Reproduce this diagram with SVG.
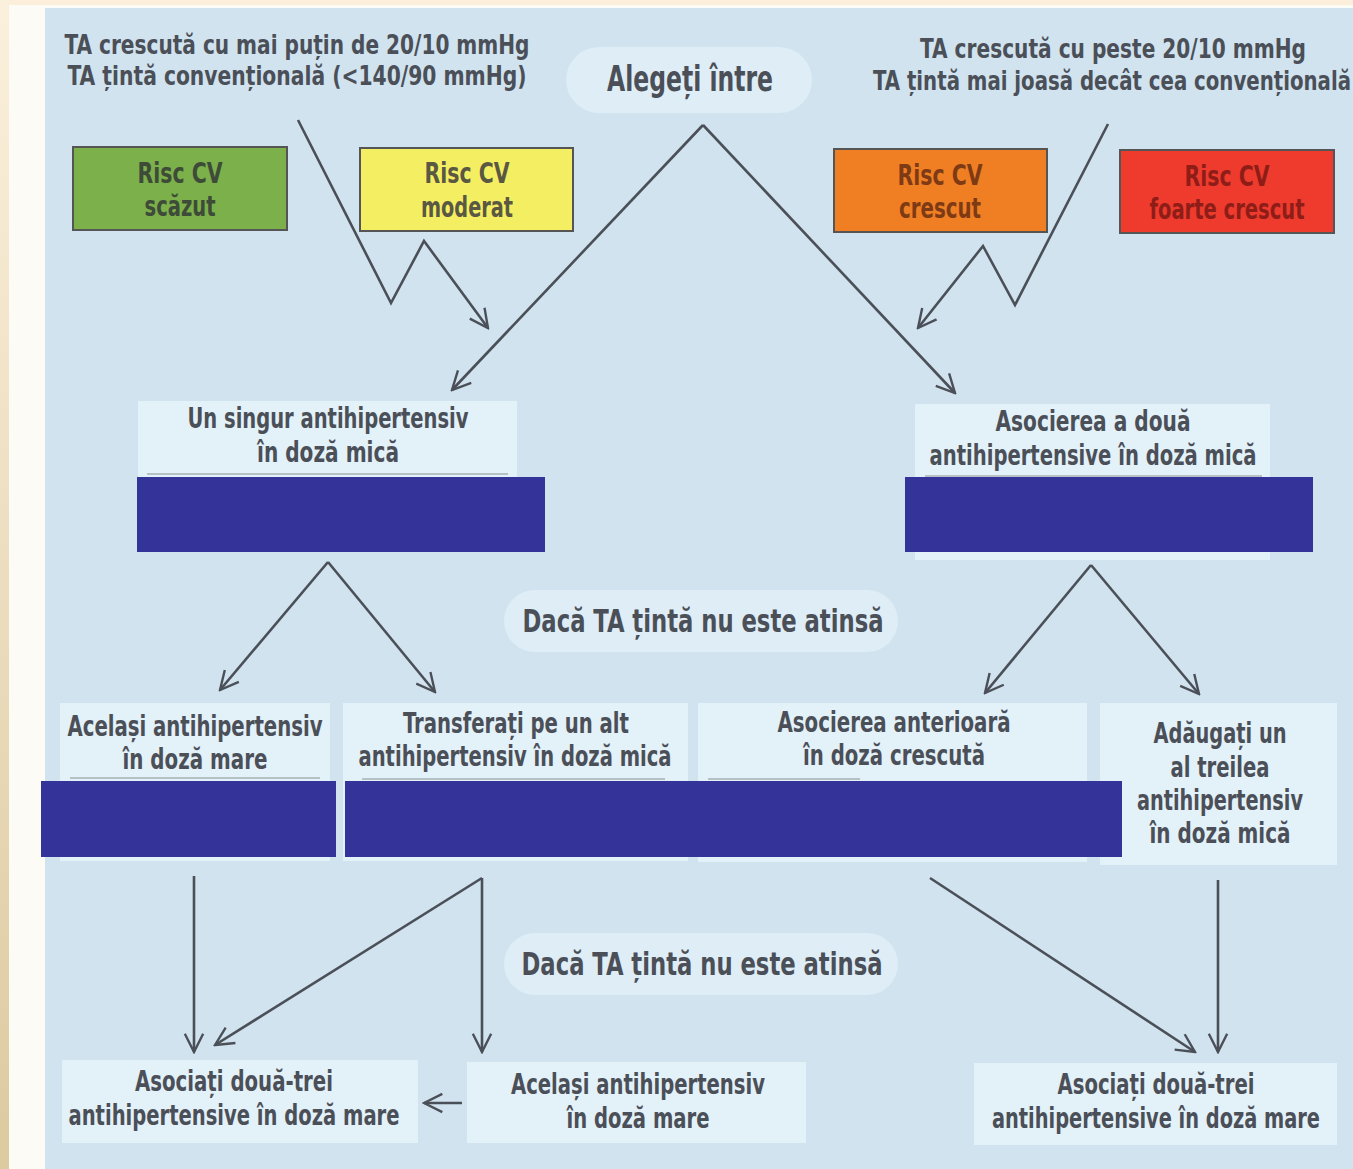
<svg xmlns="http://www.w3.org/2000/svg" width="1353" height="1169" viewBox="0 0 1353 1169">
  <defs>
    <linearGradient id="edge" x1="0" y1="0" x2="0" y2="1">
      <stop offset="0" stop-color="#fbf0dc"/>
      <stop offset="1" stop-color="#dccaa0"/>
    </linearGradient>
    <marker id="chev" viewBox="0 0 12 12" refX="11" refY="6" markerWidth="22" markerHeight="22" markerUnits="userSpaceOnUse" orient="auto">
      <path d="M1,1 L11,6 L1,11" fill="none" stroke="#4b4f58" stroke-width="1.3" stroke-linejoin="miter"/>
    </marker>
    <style>
      text { font-family: "Liberation Sans Narrow", "DejaVu Sans Condensed", "Liberation Sans", sans-serif; font-weight: bold; fill: #4b4f58; text-anchor: middle; }
      .top { font-size: 27px; }
      .big { font-size: 36px; }
      .risk { font-size: 28px; }
      .node { font-size: 27.5px; }
      .cond { font-size: 32px; }
      .panel { fill: #e3f1f8; }
      .pill { fill: #deedf6; }
      .rbox { stroke: #555555; stroke-width: 2; }
      .hide { fill: #333399; }
      .rule { stroke: #8a8f96; stroke-width: 1.2; }
      .wire { fill: none; stroke: #4b4f58; stroke-width: 2.6; stroke-linejoin: miter; }
      .arrow { marker-end: url(#chev); }
    </style>
  </defs>

  <!-- page background and margins -->
  <rect x="0" y="0" width="1353" height="1169" fill="#fdfbf5"/>
  <rect x="0" y="0" width="1353" height="5" fill="#fbeeda"/>
  <rect x="0" y="0" width="9" height="1169" fill="url(#edge)"/>
  <rect x="45" y="8" width="1308" height="1161" fill="#d0e3ef"/>

  <!-- connectors -->
  <g id="connectors">
    <polyline class="wire arrow" points="298,120 391,303 424,241 488,328"/>
    <polyline class="wire arrow" points="703,125 452,390"/>
    <polyline class="wire arrow" points="703,125 955,393"/>
    <polyline class="wire arrow" points="1108,124 1015,305 983,246 918,328"/>
    <polyline class="wire arrow" points="328,562 220,690"/>
    <polyline class="wire arrow" points="328,562 435,692"/>
    <polyline class="wire arrow" points="1091,565 985,693"/>
    <polyline class="wire arrow" points="1091,565 1199,694"/>
    <polyline class="wire arrow" points="194,876 194,1052"/>
    <polyline class="wire arrow" points="482,878 215,1045"/>
    <polyline class="wire arrow" points="482,878 482,1052"/>
    <polyline class="wire arrow" points="930,878 1195,1052"/>
    <polyline class="wire arrow" points="1218,880 1218,1052"/>
    <polyline class="wire arrow" points="462,1103 424,1103"/>
  </g>

  <!-- heading conditions -->
  <g id="cond-left">
    <text class="top" x="297" y="54" textLength="465" lengthAdjust="spacingAndGlyphs">TA crescută cu mai puțin de 20/10 mmHg</text>
    <text class="top" x="297" y="85" textLength="459" lengthAdjust="spacingAndGlyphs">TA țintă convențională (&lt;140/90 mmHg)</text>
  </g>
  <g id="choose">
    <rect class="pill" x="566" y="47" width="246" height="66" rx="33"/>
    <text class="big" x="690" y="91" textLength="166" lengthAdjust="spacingAndGlyphs">Alegeți între</text>
  </g>
  <g id="cond-right">
    <text class="top" x="1113" y="58" textLength="386" lengthAdjust="spacingAndGlyphs">TA crescută cu peste 20/10 mmHg</text>
    <text class="top" x="1112" y="90" textLength="478" lengthAdjust="spacingAndGlyphs">TA țintă mai joasă decât cea convențională</text>
  </g>

  <!-- risk categories -->
  <g id="risk-low">
    <rect class="rbox" x="73" y="147" width="214" height="83" fill="#7bb04a"/>
    <text class="risk" x="180" y="183" textLength="85" lengthAdjust="spacingAndGlyphs" style="fill:#3e4b38">Risc CV</text>
    <text class="risk" x="180" y="216" textLength="71" lengthAdjust="spacingAndGlyphs" style="fill:#3e4b38">scăzut</text>
  </g>
  <g id="risk-moderate">
    <rect class="rbox" x="360" y="148" width="213" height="83" fill="#f4ef62"/>
    <text class="risk" x="467" y="183" textLength="85" lengthAdjust="spacingAndGlyphs" style="fill:#5a5842">Risc CV</text>
    <text class="risk" x="467" y="217" textLength="92" lengthAdjust="spacingAndGlyphs" style="fill:#5a5842">moderat</text>
  </g>
  <g id="risk-high">
    <rect class="rbox" x="834" y="149" width="213" height="83" fill="#f07f24"/>
    <text class="risk" x="940" y="185" textLength="85" lengthAdjust="spacingAndGlyphs" style="fill:#7e3a14">Risc CV</text>
    <text class="risk" x="940" y="218" textLength="82" lengthAdjust="spacingAndGlyphs" style="fill:#7e3a14">crescut</text>
  </g>
  <g id="risk-very-high">
    <rect class="rbox" x="1120" y="150" width="214" height="83" fill="#ee3b2d"/>
    <text class="risk" x="1227" y="186" textLength="85" lengthAdjust="spacingAndGlyphs" style="fill:#8e1d18">Risc CV</text>
    <text class="risk" x="1227" y="219" textLength="155" lengthAdjust="spacingAndGlyphs" style="fill:#8e1d18">foarte crescut</text>
  </g>

  <!-- first step -->
  <g id="mono-low">
    <rect class="panel" x="138" y="401" width="379" height="150"/>
    <line class="rule" x1="147" y1="474" x2="508" y2="474"/>
    <text class="node" x="328" y="428" textLength="281" lengthAdjust="spacingAndGlyphs">Un singur antihipertensiv</text>
    <text class="node" x="328" y="462" textLength="142" lengthAdjust="spacingAndGlyphs">în doză mică</text>
    <rect class="hide" x="137" y="477" width="408" height="75"/>
  </g>
  <g id="combo-low">
    <rect class="panel" x="915" y="404" width="355" height="156"/>
    <line class="rule" x1="925" y1="476" x2="1262" y2="476"/>
    <text class="node" x="1093" y="431" textLength="195" lengthAdjust="spacingAndGlyphs">Asocierea a două</text>
    <text class="node" x="1093" y="465" textLength="327" lengthAdjust="spacingAndGlyphs">antihipertensive în doză mică</text>
    <rect class="hide" x="905" y="477" width="408" height="75"/>
  </g>

  <g id="not-reached-1">
    <rect class="pill" x="504" y="590" width="394" height="62" rx="31"/>
    <text class="cond" x="703" y="632" textLength="361" lengthAdjust="spacingAndGlyphs">Dacă TA țintă nu este atinsă</text>
  </g>

  <!-- second step -->
  <g id="same-high">
    <rect class="panel" x="60" y="703" width="270" height="158"/>
    <line class="rule" x1="70" y1="778" x2="320" y2="778"/>
    <text class="node" x="195" y="736" textLength="255" lengthAdjust="spacingAndGlyphs">Același antihipertensiv</text>
    <text class="node" x="195" y="769" textLength="145" lengthAdjust="spacingAndGlyphs">în doză mare</text>
  </g>
  <g id="switch-low">
    <rect class="panel" x="343" y="703" width="345" height="158"/>
    <line class="rule" x1="362" y1="779" x2="665" y2="779"/>
    <text class="node" x="516" y="733" textLength="226" lengthAdjust="spacingAndGlyphs">Transferați pe un alt</text>
    <text class="node" x="515" y="766" textLength="313" lengthAdjust="spacingAndGlyphs">antihipertensiv în doză mică</text>
  </g>
  <g id="combo-high">
    <rect class="panel" x="698" y="703" width="389" height="159"/>
    <line class="rule" x1="708" y1="779" x2="860" y2="779"/>
    <text class="node" x="894" y="732" textLength="233" lengthAdjust="spacingAndGlyphs">Asocierea anterioară</text>
    <text class="node" x="894" y="765" textLength="182" lengthAdjust="spacingAndGlyphs">în doză crescută</text>
  </g>
  <g id="add-third">
    <rect class="panel" x="1100" y="703" width="237" height="162"/>
    <text class="node" x="1220" y="743" textLength="133" lengthAdjust="spacingAndGlyphs">Adăugați un</text>
    <text class="node" x="1220" y="777" textLength="99" lengthAdjust="spacingAndGlyphs">al treilea</text>
    <text class="node" x="1220" y="810" textLength="166" lengthAdjust="spacingAndGlyphs">antihipertensiv</text>
    <text class="node" x="1220" y="843" textLength="141" lengthAdjust="spacingAndGlyphs">în doză mică</text>
  </g>
  <rect class="hide" x="41" y="781" width="295" height="76"/>
  <rect class="hide" x="345" y="781" width="777" height="76"/>

  <g id="not-reached-2">
    <rect class="pill" x="504" y="933" width="394" height="62" rx="31"/>
    <text class="cond" x="702" y="975" textLength="361" lengthAdjust="spacingAndGlyphs">Dacă TA țintă nu este atinsă</text>
  </g>

  <!-- third step -->
  <g id="multi-high-left">
    <rect class="panel" x="62" y="1060" width="356" height="83"/>
    <text class="node" x="234" y="1091" textLength="198" lengthAdjust="spacingAndGlyphs">Asociați două-trei</text>
    <text class="node" x="234" y="1125" textLength="331" lengthAdjust="spacingAndGlyphs">antihipertensive în doză mare</text>
  </g>
  <g id="same-high-2">
    <rect class="panel" x="467" y="1062" width="339" height="81"/>
    <text class="node" x="638" y="1094" textLength="254" lengthAdjust="spacingAndGlyphs">Același antihipertensiv</text>
    <text class="node" x="638" y="1128" textLength="143" lengthAdjust="spacingAndGlyphs">în doză mare</text>
  </g>
  <g id="multi-high-right">
    <rect class="panel" x="974" y="1063" width="363" height="82"/>
    <text class="node" x="1156" y="1094" textLength="197" lengthAdjust="spacingAndGlyphs">Asociați două-trei</text>
    <text class="node" x="1156" y="1128" textLength="328" lengthAdjust="spacingAndGlyphs">antihipertensive în doză mare</text>
  </g>
</svg>
